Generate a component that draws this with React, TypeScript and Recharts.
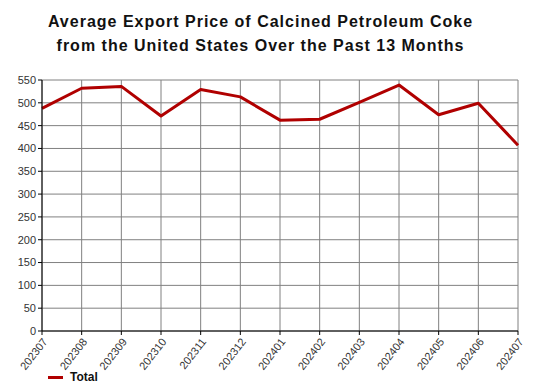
import React from 'react';
import { LineChart, Line, XAxis, YAxis, CartesianGrid } from 'recharts';

const months = ['202307','202308','202309','202310','202311','202312','202401','202402','202403','202404','202405','202406','202407'];
const totals = [488, 532, 536, 471, 529, 513, 462, 464, 501, 539, 474, 499, 407];
const yTicks = [0, 50, 100, 150, 200, 250, 300, 350, 400, 450, 500, 550];

const data = months.map((m, i) => ({ month: m, Total: totals[i] }));

export default function App() {
  return (
    <div style={{ position: 'absolute', left: 0, top: 0, width: 550, height: 387, background: '#fff', fontFamily: '"Liberation Sans", Arial, sans-serif' }}>
      <div style={{ position: 'absolute', left: 0, top: 10, width: 521, textAlign: 'center', fontWeight: 'bold', fontSize: 16, lineHeight: '24px', color: '#111', letterSpacing: 1 }}>
        Average Export Price of Calcined Petroleum Coke<br />from the United States Over the Past 13 Months
      </div>
      <div style={{ position: 'absolute', left: 0, top: 0 }}>
        <LineChart width={550} height={387} data={data} margin={{ top: 80, right: 32, left: 0, bottom: 0 }}>
          <CartesianGrid stroke="#808080" strokeWidth={1} />
          <XAxis dataKey="month" interval={0} height={56} angle={-52} textAnchor="end" tick={{ fontSize: 11, fill: '#333' }} axisLine={{ stroke: '#000' }} tickLine={{ stroke: '#000' }} tickSize={4} padding={{ left: 0, right: 0 }} />
          <YAxis domain={[0, 550]} ticks={yTicks} width={42} interval={0} tick={{ fontSize: 11, fill: '#333' }} axisLine={{ stroke: '#000' }} tickLine={{ stroke: '#000' }} tickSize={4} />
          <Line type="linear" dataKey="Total" stroke="#b00000" strokeWidth={3} strokeLinejoin="round" dot={false} isAnimationActive={false} />
        </LineChart>
      </div>
      <div style={{ position: 'absolute', left: 48, top: 370, display: 'flex', alignItems: 'center' }}>
        <div style={{ width: 15, height: 3, background: '#b00000' }} />
        <span style={{ marginLeft: 7, fontWeight: 'bold', fontSize: 12, color: '#111' }}>Total</span>
      </div>
    </div>
  );
}
